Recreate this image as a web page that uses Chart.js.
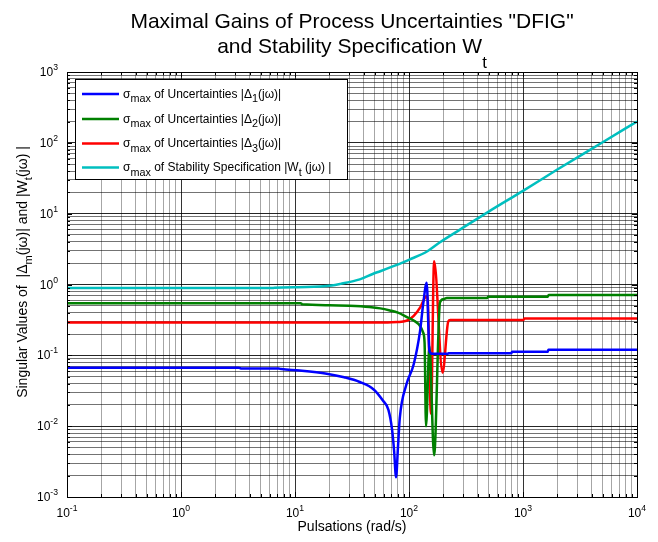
<!DOCTYPE html>
<html>
<head>
<meta charset="utf-8">
<script src="https://cdn.jsdelivr.net/npm/chart.js@4.4.1/dist/chart.umd.min.js"></script>
<style>
  html, body { margin: 0; padding: 0; background: #fff; }
  #wrap { width: 658px; height: 542px; }
</style>
</head>
<body>
<div id="wrap"><canvas id="svChart" width="658" height="542"></canvas></div>
<script>
// pulsations (rad/s) and singular values
const delta1W = [0.1, 3.2, 3.4, 7.2, 7.6, 11, 19, 27, 37, 49, 59, 66, 71, 74, 77, 80, 83, 95, 110, 125, 133, 143, 151, 160, 218, 222, 790, 800, 1650, 1670, 10000];
const delta1V = [0.067, 0.067, 0.065, 0.065, 0.064, 0.061, 0.055, 0.049, 0.042, 0.033, 0.023, 0.017, 0.009, 0.0045, 0.0019, 0.005, 0.013, 0.039, 0.075, 0.22, 0.52, 1.06, 0.115, 0.105, 0.105, 0.107, 0.107, 0.112, 0.112, 0.12, 0.12];

const delta2W = [0.1, 11.2, 11.6, 20, 30, 45, 56, 68, 80, 95, 110, 125, 133, 137, 141, 151, 166, 187, 200, 215, 485, 495, 1640, 1680, 10000];
const delta2V = [0.545, 0.545, 0.525, 0.51, 0.5, 0.48, 0.46, 0.43, 0.40, 0.35, 0.31, 0.26, 0.21, 0.15, 0.01, 0.135, 0.0039, 0.56, 0.62, 0.645, 0.645, 0.67, 0.67, 0.71, 0.71];

const delta3W = [0.1, 65, 80, 89, 100, 110, 125, 138, 145, 156, 166, 197, 221, 230, 1010, 1030, 10000];
const delta3V = [0.29, 0.29, 0.295, 0.30, 0.32, 0.36, 0.47, 0.65, 0.68, 0.015, 2.13, 0.057, 0.30, 0.315, 0.315, 0.33, 0.33];

const wtW = [0.1, 6.3, 6.6, 12.6, 21, 25, 37, 48.6, 56, 72, 101, 145, 187, 282, 500, 1000, 2000, 5000, 10000];
const wtV = [0.89, 0.89, 0.9, 0.92, 0.97, 1.02, 1.18, 1.42, 1.54, 1.8, 2.25, 2.95, 3.95, 6.0, 10.7, 21, 42, 102, 200];

// decades shown on the axes
const xDecades = [-1, 0, 1, 2, 3, 4];
const yDecades = [-3, -2, -1, 0, 1, 2, 3];

const FONT = "'Liberation Sans', Arial, Helvetica, sans-serif";

function pts(w, v) {
    return w.map((x, i) => ({ x: x, y: v[i] }));
}

// 1..9 x 10^n between the first and last decade
function logTicks(decades) {
    const out = [];
    for (let k = 0; k < decades.length; k++) {
        const p = decades[k];
        out.push(Math.pow(10, p));
        if (k < decades.length - 1) {
            for (let m = 2; m <= 9; m++) out.push(m * Math.pow(10, p));
        }
    }
    return out;
}

function isDecade(v) {
    const l = Math.log10(v);
    return Math.abs(l - Math.round(l)) < 1e-9;
}

function font(size) {
    return size + 'px ' + FONT;
}

// text with sub/superscripts: parts = [{t, sub, sup}]
function richWidth(ctx, parts, size, small) {
    let w = 0;
    parts.forEach(p => {
        ctx.font = font(p.sub || p.sup ? size * small : size);
        w += ctx.measureText(p.t).width;
    });
    return w;
}

function drawRich(ctx, parts, x, y, size, align, opts) {
    opts = opts || {};
    const small = opts.small || 0.8;
    const subDy = opts.subDy != null ? opts.subDy : size * 0.38;
    const supDy = opts.supDy != null ? opts.supDy : size * 0.5;
    const w = richWidth(ctx, parts, size, small);
    let cx = align === 'center' ? x - w / 2 : (align === 'right' ? x - w : x);
    ctx.textAlign = 'left';
    ctx.textBaseline = 'alphabetic';
    parts.forEach(p => {
        const s = p.sub || p.sup ? size * small : size;
        ctx.font = font(s);
        const dy = p.sub ? subDy : (p.sup ? -supDy : 0);
        ctx.fillText(p.t, cx, y + dy);
        cx += ctx.measureText(p.t).width;
    });
}

const legendItems = [
    { color: '#0000ff', parts: [{ t: 'σ' }, { t: 'max', sub: true }, { t: ' of Uncertainties |Δ' }, { t: '1', sub: true }, { t: '(jω)|' }] },
    { color: '#008000', parts: [{ t: 'σ' }, { t: 'max', sub: true }, { t: ' of Uncertainties |Δ' }, { t: '2', sub: true }, { t: '(jω)|' }] },
    { color: '#ff0000', parts: [{ t: 'σ' }, { t: 'max', sub: true }, { t: ' of Uncertainties |Δ' }, { t: '3', sub: true }, { t: '(jω)|' }] },
    { color: '#00bfbf', parts: [{ t: 'σ' }, { t: 'max', sub: true }, { t: ' of Stability Specification |W' }, { t: 't', sub: true }, { t: ' (jω) |' }] }
];

const matlabDecor = {
    id: 'matlabDecor',
    afterDatasetsDraw(chart) {
        const ctx = chart.ctx;
        const a = chart.chartArea;
        const xs = chart.scales.x, ys = chart.scales.y;
        ctx.save();
        ctx.strokeStyle = '#000';
        ctx.lineWidth = 1;
        // inward tick marks on all four sides
        ctx.beginPath();
        logTicks(xDecades).forEach(v => {
            const px = Math.round(xs.getPixelForValue(v)) + 0.5;
            const len = isDecade(v) ? 5 : 3;
            ctx.moveTo(px, a.bottom); ctx.lineTo(px, a.bottom - len);
            ctx.moveTo(px, a.top); ctx.lineTo(px, a.top + len);
        });
        logTicks(yDecades).forEach(v => {
            const py = Math.round(ys.getPixelForValue(v)) + 0.5;
            const len = isDecade(v) ? 5 : 3;
            ctx.moveTo(a.left, py); ctx.lineTo(a.left + len, py);
            ctx.moveTo(a.right, py); ctx.lineTo(a.right - len, py);
        });
        ctx.stroke();
        ctx.strokeRect(Math.round(a.left) + 0.5, Math.round(a.top) + 0.5,
            Math.round(a.right - a.left), Math.round(a.bottom - a.top));
        ctx.restore();
    },
    afterDraw(chart) {
        const ctx = chart.ctx;
        const a = chart.chartArea;
        const xs = chart.scales.x, ys = chart.scales.y;
        const midX = (a.left + a.right) / 2;
        ctx.save();
        ctx.fillStyle = '#000';

        // tick labels 10^n
        xDecades.forEach(p => {
            const px = xs.getPixelForValue(Math.pow(10, p));
            drawRich(ctx, [{ t: '10' }, { t: String(p), sup: true }], px, a.bottom + 20, 12, 'center', { small: 0.72, supDy: 6 });
        });
        yDecades.forEach(p => {
            const py = ys.getPixelForValue(Math.pow(10, p));
            drawRich(ctx, [{ t: '10' }, { t: String(p), sup: true }], a.left - 9, py + 4, 12, 'right', { small: 0.72, supDy: 6 });
        });

        // x label
        drawRich(ctx, [{ t: 'Pulsations (rad/s)' }], midX, 531, 14, 'center');

        // y label, rotated
        ctx.save();
        ctx.translate(27, 272);
        ctx.rotate(-Math.PI / 2);
        drawRich(ctx, [{ t: 'Singular Values of  |Δ' }, { t: 'm', sub: true }, { t: '(jω)| and |W' }, { t: 't', sub: true }, { t: '(jω) |' }],
            0, 0, 14, 'center', { subDy: 5 });
        ctx.restore();

        // title
        drawRich(ctx, [{ t: 'Maximal Gains of Process Uncertainties "DFIG"' }], midX, 28, 21, 'center');
        drawRich(ctx, [{ t: 'and Stability Specification W' }, { t: 't', sub: true }], midX, 53, 21, 'center', { subDy: 15 });

        // legend box
        const L = { x: 75, y: 79, w: 272, h: 100 };
        ctx.fillStyle = '#fff';
        ctx.fillRect(L.x, L.y, L.w, L.h);
        ctx.strokeStyle = '#000';
        ctx.lineWidth = 1;
        ctx.strokeRect(L.x + 0.5, L.y + 0.5, L.w, L.h);
        const rowY = [94, 119, 143.5, 167.5];
        legendItems.forEach((it, i) => {
            ctx.strokeStyle = it.color;
            ctx.lineWidth = 2.5;
            ctx.beginPath();
            ctx.moveTo(82, rowY[i]);
            ctx.lineTo(119, rowY[i]);
            ctx.stroke();
            ctx.fillStyle = '#000';
            drawRich(ctx, it.parts, 123, rowY[i] + 3.5, 12, 'left', { small: 0.9, subDy: 4.5 });
        });
        ctx.restore();
    }
};

function gridColor(major, minor) {
    return (c) => (c.tick && isDecade(c.tick.value)) ? major : minor;
}

function lineSet(label, w, v, color) {
    return {
        label: label,
        data: pts(w, v),
        borderColor: color,
        backgroundColor: color,
        borderWidth: 2.5,
        pointRadius: 0,
        fill: false,
        cubicInterpolationMode: 'monotone'
    };
}

const canvas = document.getElementById('svChart');
new Chart(canvas.getContext('2d'), {
    type: 'line',
    data: {
        datasets: [
            lineSet('Delta1', delta1W, delta1V, '#0000ff'),
            lineSet('Delta2', delta2W, delta2V, '#008000'),
            lineSet('Delta3', delta3W, delta3V, '#ff0000'),
            lineSet('Wt', wtW, wtV, '#00bfbf')
        ]
    },
    options: {
        responsive: false,
        animation: false,
        devicePixelRatio: 1,
        layout: { padding: { left: 67, right: 21, top: 72, bottom: 45 } },
        scales: {
            x: {
                type: 'logarithmic',
                min: 0.1,
                max: 10000,
                afterBuildTicks: (s) => { s.ticks = logTicks(xDecades).map(v => ({ value: v })); },
                afterFit: (s) => { s.height = 0; },
                ticks: { display: false },
                border: { display: false },
                grid: { drawTicks: false, lineWidth: 1, color: gridColor('rgba(0,0,0,0.8)', 'rgba(0,0,0,0.35)') }
            },
            y: {
                type: 'logarithmic',
                min: 0.001,
                max: 1000,
                afterBuildTicks: (s) => { s.ticks = logTicks(yDecades).map(v => ({ value: v })); },
                afterFit: (s) => { s.width = 0; },
                ticks: { display: false },
                border: { display: false },
                grid: { drawTicks: false, lineWidth: 1, color: gridColor('rgba(0,0,0,0.85)', 'rgba(0,0,0,0.55)') }
            }
        },
        plugins: {
            legend: { display: false },
            title: { display: false },
            tooltip: { enabled: false }
        }
    },
    plugins: [matlabDecor]
});
</script>
</body>
</html>
